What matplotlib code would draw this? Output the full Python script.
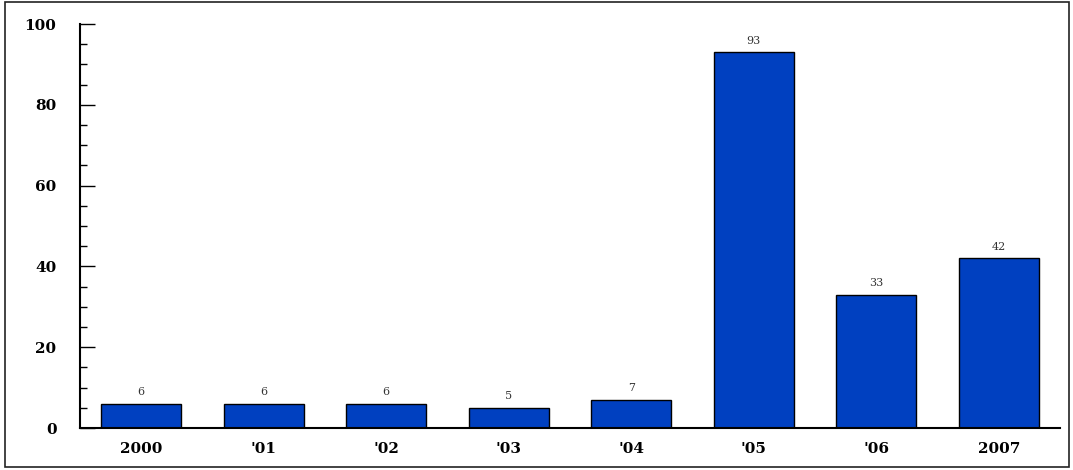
import matplotlib.pyplot as plt
from matplotlib.patches import Rectangle
from matplotlib.ticker import MultipleLocator

years = ["2000", "'01", "'02", "'03", "'04", "'05", "'06", "2007"]
counts = [6, 6, 6, 5, 7, 93, 33, 42]

plt.rcParams['font.family'] = ['DejaVu Serif']

fig = plt.figure(figsize=(10.73, 4.70), dpi=100)
ax = fig.add_axes([80/1073, 42/470, 980/1073, 404/470])

# frame around the whole figure
fig.patches.append(Rectangle((5/1073, 3/470), 1064/1073, 465/470, transform=fig.transFigure,
                             fill=False, edgecolor='#222222', linewidth=1.2))

x = range(len(years))
bars = ax.bar(x, counts, width=0.65, color='#0040c0', edgecolor='black', linewidth=1.0)
for xi, v in zip(x, counts):
    ax.text(xi, v + 1.6, str(v), ha='center', va='bottom', fontsize=8, color='#333333')

ax.set_xlim(-0.5, 7.5)
ax.set_ylim(0, 100)
ax.spines['top'].set_visible(False)
ax.spines['right'].set_visible(False)
ax.spines['left'].set_linewidth(1.5)
ax.spines['bottom'].set_linewidth(1.5)

ax.yaxis.set_major_locator(MultipleLocator(20))
ax.yaxis.set_minor_locator(MultipleLocator(5))
ax.tick_params(axis='y', which='major', direction='in', length=11, width=1.0, pad=17)
ax.tick_params(axis='y', which='minor', direction='in', length=5, width=1.0)
ax.tick_params(axis='x', length=0, pad=10)

ax.set_xticks(list(x))
ax.set_xticklabels(years, fontsize=11, fontweight='bold')
for lbl in ax.get_yticklabels():
    lbl.set_fontsize(11)
    lbl.set_fontweight('bold')

fig.savefig('out.png', dpi=100)
